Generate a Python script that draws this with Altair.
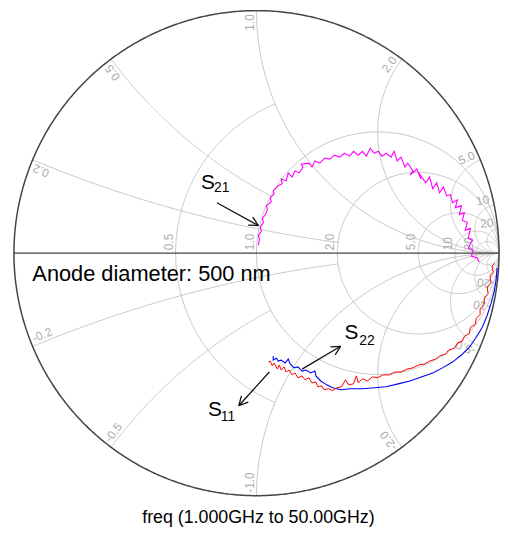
import numpy as np
import pandas as pd
import altair as alt

# ---------------- Smith chart grid values ----------------
R_CIRCLES = [0.5, 1, 2, 5, 10, 20]
R_LIMITS = [1, None, None, None, None, None]      # |x| where a resistance circle stops
X_ARCS = [0.2, 0.5, 1, 2, 5, 10, 20]
X_LIMITS = [2, 1, None, None, None, None, None]   # r where a reactance arc stops
RIM_LABELS = ["0.2", "0.5", "1.0", "2.0", "5.0", "10", "20"]
AXIS_LABELS = ["0.5", "1.0", "2.0", "5.0", "10", "20"]

# ---------------- measured traces (reflection coefficient, re / im) ----------------
S21_RE = [0.008, 0.012, 0.008, 0.020, 0.016, 0.029, 0.024, 0.037, 0.045, 0.041,
          0.061, 0.057, 0.073, 0.069, 0.090, 0.106, 0.102, 0.122, 0.131, 0.147,
          0.159, 0.176, 0.192, 0.184, 0.216, 0.229, 0.241, 0.261, 0.282, 0.302,
          0.322, 0.343, 0.363, 0.384, 0.400, 0.420, 0.437, 0.453, 0.469, 0.486,
          0.502, 0.518, 0.535, 0.555, 0.567, 0.580, 0.596, 0.612, 0.624, 0.645,
          0.633, 0.661, 0.678, 0.669, 0.698, 0.714, 0.727, 0.743, 0.755, 0.771,
          0.784, 0.800, 0.808, 0.829, 0.820, 0.845, 0.837, 0.857, 0.849, 0.869,
          0.861, 0.882, 0.873, 0.890, 0.873, 0.894, 0.886, 0.910, 0.918]
S21_IM = [0.033, 0.057, 0.073, 0.090, 0.106, 0.127, 0.143, 0.159, 0.180, 0.196,
          0.212, 0.229, 0.245, 0.257, 0.278, 0.286, 0.306, 0.298, 0.331, 0.314,
          0.339, 0.331, 0.355, 0.367, 0.371, 0.355, 0.380, 0.371, 0.392, 0.388,
          0.404, 0.396, 0.412, 0.400, 0.420, 0.404, 0.420, 0.400, 0.433, 0.412,
          0.420, 0.400, 0.412, 0.396, 0.420, 0.380, 0.396, 0.355, 0.371, 0.339,
          0.322, 0.347, 0.306, 0.331, 0.290, 0.314, 0.265, 0.290, 0.249, 0.273,
          0.237, 0.241, 0.208, 0.220, 0.188, 0.196, 0.159, 0.167, 0.135, 0.127,
          0.094, 0.102, 0.061, 0.053, 0.020, 0.012, -0.012, -0.020, -0.037]

S22_RE = [0.992, 0.988, 0.980, 0.967, 0.951, 0.931, 0.906, 0.878, 0.845, 0.808,
          0.767, 0.727, 0.682, 0.633, 0.584, 0.535, 0.486, 0.437, 0.388, 0.347,
          0.314, 0.290, 0.265, 0.245, 0.241, 0.224, 0.204, 0.188, 0.171, 0.155,
          0.139, 0.131, 0.118, 0.102, 0.090, 0.082, 0.069, 0.069]
S22_IM = [-0.061, -0.110, -0.159, -0.208, -0.257, -0.306, -0.347, -0.388, -0.420, -0.449,
          -0.473, -0.494, -0.510, -0.527, -0.539, -0.551, -0.555, -0.559, -0.559, -0.563,
          -0.555, -0.543, -0.527, -0.506, -0.486, -0.494, -0.482, -0.486, -0.469, -0.473,
          -0.457, -0.437, -0.453, -0.441, -0.445, -0.433, -0.441, -0.424]

S11_RE = [0.984, 0.971, 0.976, 0.963, 0.967, 0.951, 0.955, 0.939, 0.939, 0.922,
          0.922, 0.906, 0.902, 0.882, 0.878, 0.857, 0.849, 0.829, 0.816, 0.792,
          0.780, 0.755, 0.739, 0.714, 0.694, 0.669, 0.645, 0.620, 0.596, 0.571,
          0.547, 0.522, 0.498, 0.478, 0.457, 0.437, 0.420, 0.412, 0.400, 0.380,
          0.367, 0.351, 0.331, 0.314, 0.298, 0.278, 0.269, 0.253, 0.245, 0.229,
          0.216, 0.200, 0.188, 0.171, 0.159, 0.147, 0.135, 0.122, 0.114, 0.102,
          0.094, 0.086, 0.073, 0.065, 0.057, 0.049]
S11_IM = [-0.041, -0.053, -0.078, -0.094, -0.122, -0.139, -0.167, -0.184, -0.212, -0.229,
          -0.253, -0.269, -0.294, -0.306, -0.331, -0.343, -0.363, -0.371, -0.392, -0.400,
          -0.416, -0.424, -0.437, -0.445, -0.457, -0.461, -0.473, -0.478, -0.490, -0.490,
          -0.502, -0.502, -0.514, -0.510, -0.527, -0.518, -0.535, -0.506, -0.539, -0.543,
          -0.522, -0.551, -0.555, -0.567, -0.559, -0.563, -0.547, -0.551, -0.531, -0.535,
          -0.514, -0.522, -0.506, -0.514, -0.494, -0.502, -0.482, -0.490, -0.469, -0.482,
          -0.461, -0.478, -0.453, -0.465, -0.445, -0.449]

# ---------------- annotations (positions in reflection-coefficient units) ----------------
ARROW_TAIL_RE = [-0.163, 0.188, 0.053]
ARROW_TAIL_IM = [0.208, -0.478, -0.490]
ARROW_HEAD_RE = [0.008, 0.347, -0.073]
ARROW_HEAD_IM = [0.114, -0.384, -0.629]
S_NAMES = ["S", "S", "S"]
S_RE = [-0.229, 0.363, -0.200]
S_IM = [0.265, -0.355, -0.673]
SUB_NAMES = ["21", "22", "11"]
SUB_RE = [-0.175, 0.424, -0.147]
SUB_IM = [0.253, -0.378, -0.694]
NOTE = "Anode diameter: 500 nm"
NOTE_RE, NOTE_IM = -0.924, -0.116
CAPTION = "freq (1.000GHz to 50.00GHz)"
CAPTION_RE, CAPTION_IM = 0.008, -1.114

FONT = "Liberation Sans"


def gam(z):
    return (z - 1) / (z + 1)


# ---------------- grid geometry ----------------
rows = []
gid = 0
for r, xl in zip(R_CIRCLES, R_LIMITS):
    c, rho = r / (1 + r), 1 / (1 + r)
    if xl is None:
        p0 = 0.0
    else:
        p = gam(complex(r, xl))
        p0 = np.arctan2(p.imag, p.real - c)
    for k, ph in enumerate(np.linspace(p0, 2 * np.pi - p0, 361)):
        rows.append((gid, k, c + rho * np.cos(ph), rho * np.sin(ph)))
    gid += 1
for xv, rl in zip(X_ARCS, X_LIMITS):
    cy = rho = 1 / xv
    p = gam(complex(0, xv))
    a0 = np.arctan2(p.imag - cy, p.real - 1)
    if rl is None:
        a1 = -np.pi / 2
    else:
        q = gam(complex(rl, xv))
        a1 = np.arctan2(q.imag - cy, q.real - 1)
    if a1 < a0:
        a1 += 2 * np.pi
    angs = np.linspace(a0, a1, 240)
    for sgn in (1, -1):
        for k, a in enumerate(angs):
            rows.append((gid, k, 1 + rho * np.cos(a), sgn * (cy + rho * np.sin(a))))
        gid += 1
grid_df = pd.DataFrame(rows, columns=["id", "k", "gx", "gy"])

t = np.linspace(0, 2 * np.pi, 721)
rim_df = pd.DataFrame({"k": np.arange(len(t)), "gx": np.cos(t), "gy": np.sin(t)})
axis_df = pd.DataFrame({"k": [0, 1], "gx": [-1.0, 1.0], "gy": [0.0, 0.0]})

up_rows, lo_rows = [], []
for xv, txt in zip(X_ARCS, RIM_LABELS):
    p = gam(complex(0, xv))
    th = np.degrees(np.arctan2(p.imag, p.real))
    up_rows.append(dict(gx=0.985 * p.real, gy=0.985 * p.imag, t=txt, ang=360 - th))
    lo_rows.append(dict(gx=0.988 * p.real, gy=-0.988 * p.imag, t="-" + txt, ang=180 + th))
up_df = pd.DataFrame(up_rows)
lo_df = pd.DataFrame(lo_rows)
ax_df = pd.DataFrame({"gx": [(r - 1) / (r + 1) for r in R_CIRCLES],
                      "gy": [0.012] * len(R_CIRCLES), "t": AXIS_LABELS,
                      "ang": [270] * len(R_CIRCLES)})


def trace(re, im):
    return pd.DataFrame({"k": np.arange(len(re)), "gx": re, "gy": im})


# arrows and arrow heads
arr_df = pd.DataFrame({"gx": ARROW_TAIL_RE, "gy": ARROW_TAIL_IM,
                       "gx2": ARROW_HEAD_RE, "gy2": ARROW_HEAD_IM})
wing = []
L, half = 0.042, np.radians(27)
for tx, ty, hx, hy in zip(ARROW_TAIL_RE, ARROW_TAIL_IM, ARROW_HEAD_RE, ARROW_HEAD_IM):
    ux, uy = tx - hx, ty - hy
    n = np.hypot(ux, uy)
    ux, uy = ux / n, uy / n
    for s in (1, -1):
        ca, sa = np.cos(s * half), np.sin(s * half)
        wx, wy = ux * ca - uy * sa, ux * sa + uy * ca
        wing.append(dict(gx=hx, gy=hy, gx2=hx + L * wx, gy2=hy + L * wy))
wing_df = pd.DataFrame(wing)

s_df = pd.DataFrame({"gx": S_RE, "gy": S_IM, "t": S_NAMES})
sub_df = pd.DataFrame({"gx": SUB_RE, "gy": SUB_IM, "t": SUB_NAMES})
note_df = pd.DataFrame({"gx": [NOTE_RE], "gy": [NOTE_IM], "t": [NOTE]})
cap_df = pd.DataFrame({"gx": [CAPTION_RE], "gy": [CAPTION_IM], "t": [CAPTION]})

# ---------------- scales ----------------
XS = alt.Scale(domain=[-1.02449, 0.97551], nice=False, zero=False)
YS = alt.Scale(domain=[-1.0, 0.99184], nice=False, zero=False)
X = alt.X("gx:Q", scale=XS, axis=None)
Y = alt.Y("gy:Q", scale=YS, axis=None)

GRID = "#c4c4c4"
LAB = "#acacac"

layers = [
    alt.Chart(grid_df).mark_line(color=GRID, strokeWidth=1).encode(
        x=X, y=Y, detail="id:N", order="k:Q"),
    alt.Chart(axis_df).mark_line(color="#444444", strokeWidth=1.2).encode(x=X, y=Y, order="k:Q"),
    alt.Chart(rim_df).mark_line(color="#444444", strokeWidth=1.5).encode(x=X, y=Y, order="k:Q"),
    alt.Chart(up_df).mark_text(align="right", baseline="bottom", font=FONT, fontSize=12,
                               color=LAB).encode(x=X, y=Y, text="t:N",
                                                 angle=alt.Angle("ang:Q", scale=None)),
    alt.Chart(lo_df).mark_text(align="left", baseline="bottom", font=FONT, fontSize=12,
                               color=LAB).encode(x=X, y=Y, text="t:N",
                                                 angle=alt.Angle("ang:Q", scale=None)),
    alt.Chart(ax_df).mark_text(align="left", baseline="bottom", font=FONT, fontSize=12,
                               color=LAB).encode(x=X, y=Y, text="t:N",
                                                 angle=alt.Angle("ang:Q", scale=None)),
    alt.Chart(trace(S22_RE, S22_IM)).mark_line(color="#0000ff", strokeWidth=1.1).encode(
        x=X, y=Y, order="k:Q"),
    alt.Chart(trace(S11_RE, S11_IM)).mark_line(color="#ff0000", strokeWidth=1.0).encode(
        x=X, y=Y, order="k:Q"),
    alt.Chart(trace(S21_RE, S21_IM)).mark_line(color="#ff00ff", strokeWidth=1.1).encode(
        x=X, y=Y, order="k:Q"),
    alt.Chart(arr_df).mark_rule(color="#111111", strokeWidth=1.3).encode(
        x=X, y=Y, x2="gx2:Q", y2="gy2:Q"),
    alt.Chart(wing_df).mark_rule(color="#111111", strokeWidth=1.3).encode(
        x=X, y=Y, x2="gx2:Q", y2="gy2:Q"),
    alt.Chart(s_df).mark_text(align="left", baseline="alphabetic", font=FONT, fontSize=21,
                              color="black").encode(x=X, y=Y, text="t:N"),
    alt.Chart(sub_df).mark_text(align="left", baseline="alphabetic", font=FONT, fontSize=14,
                                color="black").encode(x=X, y=Y, text="t:N"),
    alt.Chart(note_df).mark_text(align="left", baseline="alphabetic", font=FONT, fontSize=22,
                                 color="black").encode(x=X, y=Y, text="t:N"),
    alt.Chart(cap_df).mark_text(align="center", baseline="alphabetic", font=FONT, fontSize=18,
                                color="black").encode(x=X, y=Y, text="t:N"),
]

chart = alt.layer(*layers).properties(
    width=490, height=488,
    padding={"left": 0, "top": 2, "right": 7, "bottom": 32},
    autosize=alt.AutoSizeParams(type="none"),
).configure_view(stroke=None)

chart.save("out.html", embed_options={"renderer": "svg", "actions": False})
